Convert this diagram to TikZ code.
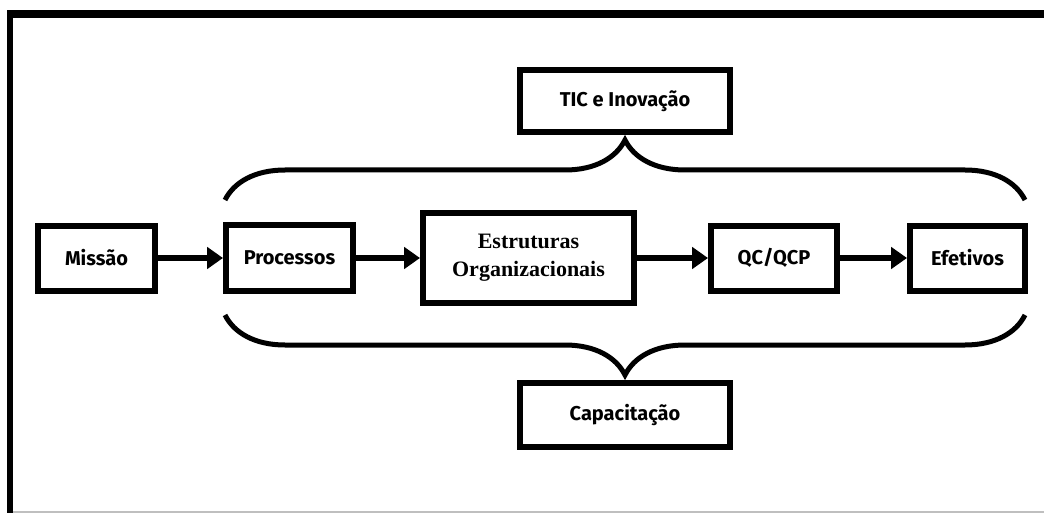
\documentclass[tikz,border=0pt]{standalone}
\usepackage{fontspec}
\newfontfamily\boxfont{Fira Sans}
\newfontfamily\serfont{Liberation Serif}[BoldFont={Liberation Serif Bold}]
\usetikzlibrary{arrows.meta,decorations.pathreplacing,positioning}

\tikzset{
  blok/.style={draw, line width=4.5pt, inner sep=0pt, align=center,
    minimum height=48.75pt, font=\boxfont\bfseries\fontsize{15}{18}\selectfont},
  seta/.style={line width=4.5pt, -{Triangle[length=12pt,width=16pt]}},
  chave/.style={decorate, line width=3.75pt,
    decoration={brace, amplitude=45pt}}
}

\begin{document}
\begin{tikzpicture}[x=0.75pt, y=-0.75pt]
  \useasboundingbox (0,0) rectangle (1044,513);
  % moldura
  \draw[line width=6pt] (1044,14) -- (7,14);
  \draw[line width=4.5pt] (10,11) -- (10,513);
  \draw[line width=1pt, black!25] (13,512) -- (1044,512);

  % caixas da cadeia
  \node (missao) [blok, minimum width=87.75pt] at (96.5,258) {Missão};
  \node (proc) [blok, minimum width=95.25pt, minimum height=49.5pt] at (289.5,258) {Processos};
  \node (estr) [blok, minimum width=158.25pt, minimum height=67.5pt,
    font=\serfont\bfseries\fontsize{16.5}{21}\selectfont] at (528.5,258)
    {Estruturas\\Organizacionais};
  \node (qc) [blok, minimum width=94.5pt] at (774,258) {QC/QCP};
  \node (efet) [blok, minimum width=86.25pt] at (967.5,258) {Efetivos};
  \node (tic) [blok, minimum width=157.5pt, minimum height=46.5pt] at (625,101) {TIC e Inovação};
  \node (capac) [blok, minimum width=157.5pt, minimum height=48pt] at (625,415) {Capacitação};

  \draw[seta] (missao) -- (proc);
  \draw[seta] (proc) -- (estr);
  \draw[seta] (estr) -- (qc);
  \draw[seta] (qc) -- (efet);

  % chaves
  \coordinate (c1) at (225,200);
  \coordinate (c2) at (1025,200);
  \coordinate (c3) at (1025,315);
  \coordinate (c4) at (225,315);
  \draw[chave] (c1) -- (c2);
  \draw[chave] (c3) -- (c4);
\end{tikzpicture}
\end{document}
